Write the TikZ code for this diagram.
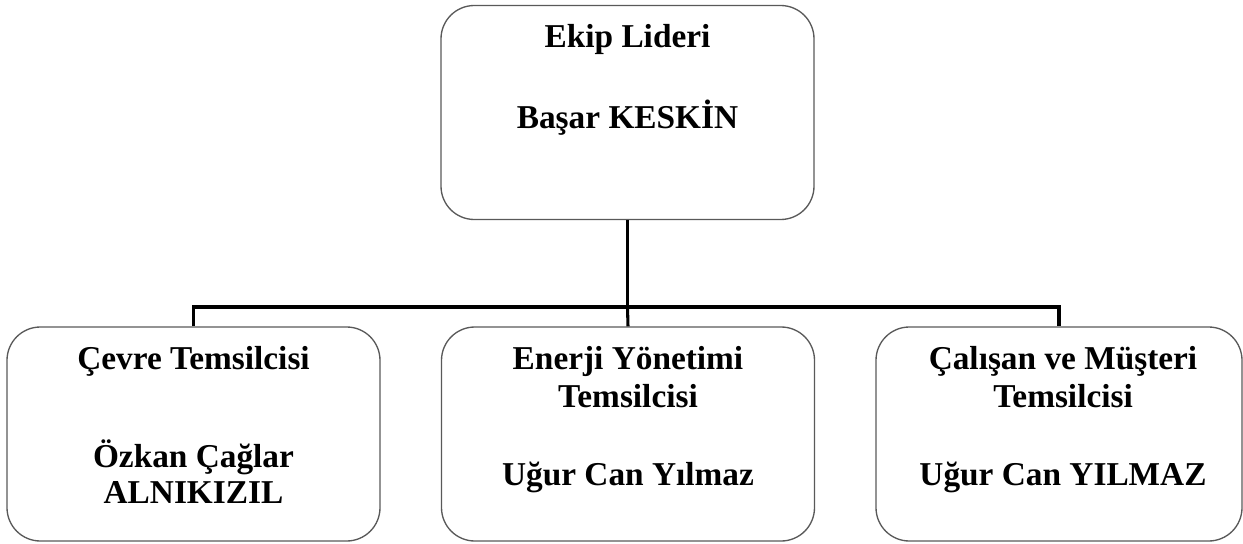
\documentclass[tikz,border=0pt]{standalone}
\usepackage{fontspec}
\setmainfont{Liberation Serif}
\usetikzlibrary{positioning}

% boxes, their texts and the connecting lines
\tikzset{
    unitbox/.style={draw=black!65, line width=1pt, rounded corners=25pt,
        minimum width=279.75pt, minimum height=160.5pt, inner sep=0pt},
    boxtext/.style={anchor=north, align=center, inner sep=0pt,
        font=\fontsize{25}{28.5}\selectfont\bfseries},
    link/.style={line width=2.3pt}
}

\begin{document}
\begin{tikzpicture}[x=0.75pt, y=-0.75pt]
    \useasboundingbox (0,0) rectangle (1243,543);

    % the four boxes
    \node[unitbox] (lead) at (627.5,112.5) {};
    \node[unitbox] (env) at (193.5,434) {};
    \node[unitbox] (energy) at (628,434) {};
    \node[unitbox, minimum width=274.5pt] (staff) at (1059,434) {};

    % texts in the boxes
    \node[boxtext, yshift=-14.5pt] (leadtext) at (lead.north)
        {Ekip Lideri\\[32pt] Başar KESKİN};
    \node[boxtext, yshift=-14.5pt] (envtext) at (env.north)
        {Çevre Temsilcisi\\[45pt] Özkan Çağlar\\[-1pt] ALNIKIZIL};
    \node[boxtext, yshift=-14.5pt] (energytext) at (energy.north)
        {Enerji Yönetimi\\ Temsilcisi\\[30pt] Uğur Can Yılmaz};
    \node[boxtext, yshift=-14.5pt, xshift=3pt] (stafftext) at (staff.north)
        {Çalışan ve Müşteri\\ Temsilcisi\\[30pt] Uğur Can YILMAZ};

    % connectors
    \coordinate (bus) at (627.5,307);
    \draw[link] (lead.south) -- (bus);
    \draw[link] (env.north) |- (bus) -| (staff.north);
    \draw[link] (bus) -- (energy.north);
\end{tikzpicture}
\end{document}
